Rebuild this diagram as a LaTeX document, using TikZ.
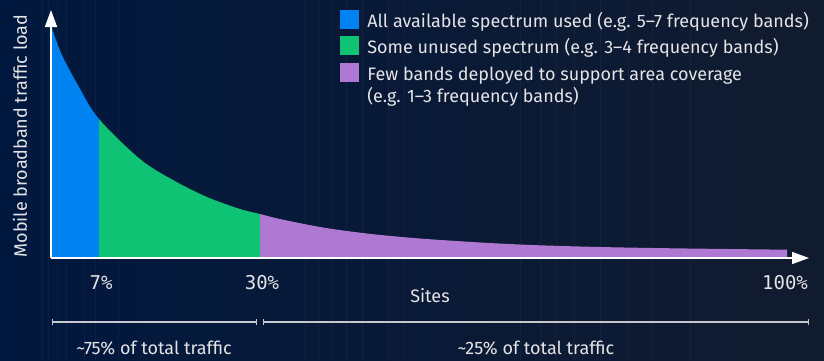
\documentclass[tikz,border=0pt]{standalone}
\usepackage{fontspec}
\setmainfont{Fira Sans}
\setmonofont{DejaVu Sans Mono}
\usetikzlibrary{arrows.meta,positioning}

\definecolor{bgNavy}{RGB}{1,24,62}
\definecolor{bgDusk}{RGB}{17,27,47}
\definecolor{ebBlue}{RGB}{0,130,240}
\definecolor{ebGreen}{RGB}{14,195,115}
\definecolor{ebPurple}{RGB}{175,120,210}
\definecolor{labelGray}{RGB}{228,228,230}
\definecolor{spanGray}{RGB}{200,200,204}

\begin{document}
\begin{tikzpicture}[x=1pt,y=-1pt,
  every node/.style={text=labelGray,inner sep=0pt,font=\fontsize{18}{22}\selectfont},
  axis/.style={white,line width=1.6pt,-{Triangle[width=12pt,length=17pt]}},
  span/.style={spanGray,line width=1.2pt,{Bar[width=6pt]}-{Bar[width=6pt]}},
  legbox/.style={minimum size=19pt},
  legtext/.style={align=left,anchor=base west},
  tick/.style={font=\ttfamily\fontsize{19}{22}\selectfont}]
  % background
  \shade[left color=bgNavy,middle color=bgNavy,right color=bgDusk]
    (0,0) rectangle (824,360);
  \useasboundingbox (0,0) rectangle (824,360);
  \foreach \s in {42,48,57,66,84,95,118,305,318,332,346,362,388,404,520,540,556,574,600,628,652,690}
    \draw[white,opacity=0.04,line width=1pt] (\s,0) -- (\s,360);

  % load curve, cut into the three site groups
  \foreach \a/\b/\c in {51/99/ebBlue,99/260/ebGreen,260/787/ebPurple} {
    \begin{scope}
      \clip (\a,0) rectangle (\b,258);
      \fill[\c] plot[smooth,tension=0.55] coordinates {(51,25) (61,53) (79,87) (99,119)
        (140,159) (173,180) (207,197) (240,209) (260,214) (280,219) (323,227.5)
        (367,233.5) (410,237.7) (453,240.8) (497,243.4) (540,245.3) (600,247)
        (673,248.3) (787,249.7)}
        -- (787,258) -- (51,258) -- cycle;
    \end{scope}
  }

  % axes
  \coordinate (O) at (51,258);
  \coordinate (yTop) at (51,10);
  \coordinate (xEnd) at (809,258);
  \draw[axis] (O) -- (yTop);
  \draw[axis] (O) -- (xEnd);
  \node[rotate=90] (yLabel) at (20,136) {Mobile broadband traffic load};
  \node (xLabel) at (430,296) {Sites};
  \node[tick] (t7) at (101,283) {7\%};
  \node[tick] (t30) at (262,283) {30\%};
  \node[tick] (t100) at (785,283) {100\%};

  % legend
  \node[legbox,fill=ebBlue] (kBlue) at (349.5,19.5) {};
  \node[legbox,fill=ebGreen,below=7pt of kBlue] (kGreen) {};
  \node[legbox,fill=ebPurple,below=7pt of kGreen] (kPurple) {};
  \node[legtext] (tBlue) at ([xshift=8pt,yshift=2pt]kBlue.south east)
    {All available spectrum used (e.g. 5–7 frequency bands)};
  \node[legtext] (tGreen) at ([xshift=8pt,yshift=2pt]kGreen.south east)
    {Some unused spectrum (e.g. 3–4 frequency bands)};
  \node[legtext] (tPurple) at ([xshift=8pt,yshift=-20pt]kPurple.south east)
    {Few bands deployed to support area coverage\\(e.g. 1–3 frequency bands)};

  % traffic share spans
  \coordinate (s1) at (52,322);
  \coordinate (s2) at (257,322);
  \coordinate (s3) at (263,322);
  \coordinate (s4) at (809,322);
  \draw[span] (s1) -- (s2);
  \draw[span] (s3) -- (s4);
  \node (share75) at (154,348) {\textasciitilde75\% of total traffic};
  \node (share25) at (536,348) {\textasciitilde25\% of total traffic};
\end{tikzpicture}
\end{document}
